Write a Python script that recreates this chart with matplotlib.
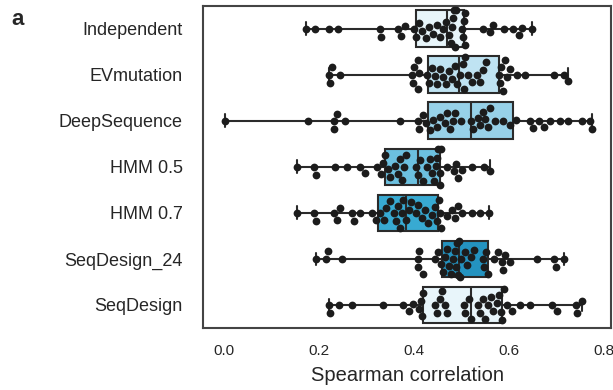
import numpy as np
import pandas as pd
import matplotlib
matplotlib.use('Agg')
import matplotlib.pyplot as plt
import seaborn as sns

methods = ['Independent', 'EVmutation', 'DeepSequence', 'HMM 0.5', 'HMM 0.7',
           'SeqDesign_24', 'SeqDesign']

independent = [0.173, 0.192, 0.222, 0.240, 0.329, 0.330, 0.366, 0.374, 0.381, 0.400,
               0.405, 0.412, 0.418, 0.425, 0.432, 0.440, 0.448, 0.455, 0.462, 0.468,
               0.474, 0.478, 0.481, 0.483, 0.485, 0.487, 0.489, 0.501, 0.503, 0.505,
               0.507, 0.509,
               0.545, 0.560, 0.566, 0.590, 0.610, 0.621, 0.629, 0.649]
evmutation = [0.222, 0.224, 0.228, 0.245, 0.396, 0.398, 0.401, 0.408, 0.410, 0.412, 0.428,
              0.432, 0.438, 0.445, 0.450, 0.455, 0.462, 0.468, 0.474, 0.480, 0.487,
              0.492, 0.498, 0.503, 0.506, 0.509, 0.515, 0.522, 0.533, 0.540, 0.546,
              0.552, 0.580, 0.582,
              0.584, 0.588, 0.592, 0.596, 0.603, 0.618, 0.635, 0.696, 0.716, 0.726]
deepsequence = [0.002, 0.178, 0.231, 0.232, 0.238, 0.255, 0.371, 0.408, 0.412, 0.420, 0.425,
                0.434, 0.440, 0.449, 0.455, 0.466, 0.470, 0.477, 0.482, 0.487, 0.500,
                0.520, 0.524, 0.535, 0.540, 0.546, 0.551, 0.557, 0.561, 0.572, 0.589, 0.603,
                0.616, 0.646, 0.652, 0.663, 0.674, 0.688, 0.709, 0.726, 0.755, 0.772, 0.776]
hmm05 = [0.153, 0.190, 0.193, 0.234, 0.259, 0.287, 0.298, 0.322, 0.330, 0.336, 0.340,
         0.346, 0.350, 0.361, 0.366, 0.370, 0.375, 0.380, 0.384, 0.405, 0.408, 0.414,
         0.420, 0.428, 0.434, 0.438, 0.442, 0.446, 0.450, 0.452,
         0.455, 0.456, 0.458, 0.470, 0.484, 0.490, 0.494, 0.501, 0.523, 0.547, 0.561]
hmm07 = [0.153, 0.190, 0.193, 0.231, 0.238, 0.244, 0.269, 0.274, 0.287, 0.312, 0.320,
         0.329, 0.338, 0.342, 0.350, 0.358, 0.362, 0.366, 0.371, 0.375, 0.378, 0.384,
         0.390, 0.395, 0.405, 0.410, 0.418, 0.424, 0.431, 0.438, 0.444, 0.448,
         0.453, 0.455, 0.458, 0.470, 0.480, 0.486, 0.494, 0.501, 0.523, 0.540, 0.558]
seqdesign24 = [0.194, 0.215, 0.219, 0.248, 0.408, 0.410, 0.412, 0.420, 0.445, 0.452,
               0.458, 0.462, 0.465, 0.470, 0.474, 0.478, 0.483, 0.486, 0.490, 0.492,
               0.494, 0.495, 0.497, 0.500, 0.508, 0.512, 0.520, 0.526, 0.545, 0.548,
               0.552, 0.557, 0.570,
               0.578, 0.585, 0.588, 0.593, 0.603, 0.660, 0.695, 0.700, 0.716]
seqdesign = [0.222, 0.224, 0.243, 0.269, 0.336, 0.378, 0.390, 0.399, 0.412, 0.415, 0.418, 0.420,
             0.445, 0.450, 0.455, 0.459, 0.465, 0.470, 0.505, 0.508, 0.516, 0.520, 0.535,
             0.540, 0.545, 0.550, 0.556, 0.562, 0.568, 0.575, 0.580, 0.584, 0.587,
             0.590, 0.596, 0.607, 0.624, 0.646, 0.691, 0.702, 0.741, 0.744, 0.755]

box_colors = ['#e8f5fa', '#bfe3f2', '#97d1e8', '#6cc0df', '#38aad2', '#2493c0', '#e8f5fa']

all_scores = [independent, evmutation, deepsequence, hmm05, hmm07, seqdesign24, seqdesign]

df = pd.DataFrame({
    'method': np.repeat(methods, [len(s) for s in all_scores]),
    'spearman': np.concatenate(all_scores),
})

sns.set_style('white')
plt.rcParams['font.family'] = ['Liberation Sans', 'DejaVu Sans']

fig = plt.figure(figsize=(6.13, 3.9), dpi=100)
ax = fig.add_axes([0.331, 0.159, 0.666, 0.826])

# points on top, boxes (min-max whiskers) underneath
sns.swarmplot(data=df, x='spearman', y='method', order=methods, color='#1c1c1c',
              size=5.6, ax=ax, zorder=3)

bp = ax.boxplot(all_scores, positions=range(len(methods)), orientation='horizontal',
                widths=0.8, whis=(0, 100), showfliers=False, patch_artist=True,
                manage_ticks=False, capwidths=0.28,
                boxprops=dict(edgecolor='#2b2b2b', linewidth=1.5),
                medianprops=dict(color='#2b2b2b', linewidth=1.5),
                whiskerprops=dict(color='#2b2b2b', linewidth=1.5),
                capprops=dict(color='#2b2b2b', linewidth=1.5),
                zorder=2)
for patch, col in zip(bp['boxes'], box_colors):
    patch.set_facecolor(col)

ax.set_xlim(-0.0443, 0.816)
ax.set_ylim(6.5, -0.5)
ax.set_xticks([0.0, 0.2, 0.4, 0.6, 0.8])
ax.set_xticklabels(['0.0', '0.2', '0.4', '0.6', '0.8'], fontsize=11)
ax.set_yticks(range(len(methods)))
ax.set_yticklabels(methods, fontsize=13)
ax.tick_params(axis='x', pad=8)
ax.tick_params(axis='y', pad=11)
ax.set_xlabel('Spearman correlation', fontsize=14.5, labelpad=6)
ax.set_ylabel('')

for sp in ax.spines.values():
    sp.set_color('#444444')
    sp.set_linewidth(1.5)

fig.text(0.018, 0.935, 'a', fontsize=16, fontweight='bold')

fig.savefig('out.png', dpi=100)
